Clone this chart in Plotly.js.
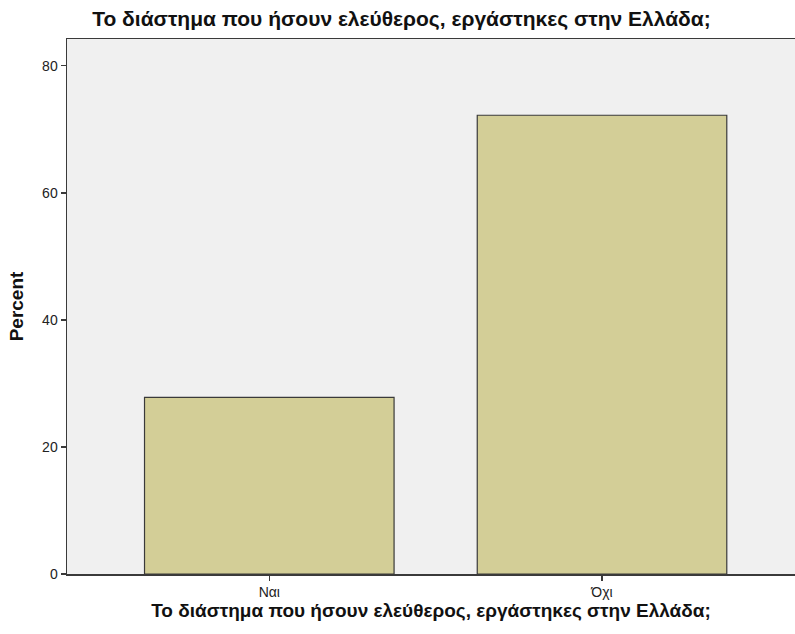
<!DOCTYPE html>
<html>
<head>
<meta charset="utf-8">
<script src="https://cdn.plot.ly/plotly-3.0.1.min.js"></script>
<style>html,body{margin:0;padding:0;background:#fff;}#chart{width:795px;height:634px;}</style>
</head>
<body>
<div id="chart"></div>
<script>
const categories = ["Ναι", "Όχι"];
const percentValues = [27.8, 72.2];
const yTickValues = [0, 20, 40, 60, 80];
const chartTitle = "Το διάστημα που ήσουν ελεύθερος, εργάστηκες στην Ελλάδα;";
const xTitle = "Το διάστημα που ήσουν ελεύθερος, εργάστηκες στην Ελλάδα;";
const yTitle = "Percent";

const trace = {
  type: "bar",
  x: categories,
  y: percentValues,
  width: 0.75,
  marker: {color: "#d3ce97", line: {color: "#3a3a3a", width: 1.2}},
  hoverinfo: "x+y"
};

const layout = {
  width: 795, height: 634,
  margin: {l: 67, r: 0, t: 39, b: 60},
  paper_bgcolor: "#ffffff",
  plot_bgcolor: "#f0f0f0",
  showlegend: false,
  font: {family: "Liberation Sans, Arial, sans-serif", color: "#222"},
  title: {
    text: chartTitle,
    font: {size: 21, family: "Liberation Sans, Arial, sans-serif", color: "#111", weight: "bold"},
    x: 0.505, xref: "container", y: 0.971, yref: "container", xanchor: "center", yanchor: "middle"
  },
  xaxis: {
    type: "category",
    range: [-0.608, 1.58],
    showgrid: false, zeroline: false,
    showline: true, linecolor: "#3a3a3a", linewidth: 1.5, mirror: true,
    ticks: "outside", ticklen: 5, tickcolor: "#3a3a3a", tickwidth: 1.5,
    tickfont: {size: 14, color: "#222"},
    title: {text: xTitle, font: {size: 19, color: "#111", weight: "bold"}, standoff: 3}
  },
  yaxis: {
    range: [0, 84.2],
    tickvals: yTickValues,
    showgrid: false, zeroline: false,
    showline: true, linecolor: "#3a3a3a", linewidth: 1.5,
    ticks: "outside", ticklen: 5, tickcolor: "#3a3a3a", tickwidth: 1.5,
    tickfont: {size: 14, color: "#222"},
    title: {text: yTitle, font: {size: 19, color: "#111", weight: "bold"}, standoff: 13}
  }
};

Plotly.newPlot("chart", [trace], layout, {displayModeBar: false, staticPlot: true});
</script>
</body>
</html>
